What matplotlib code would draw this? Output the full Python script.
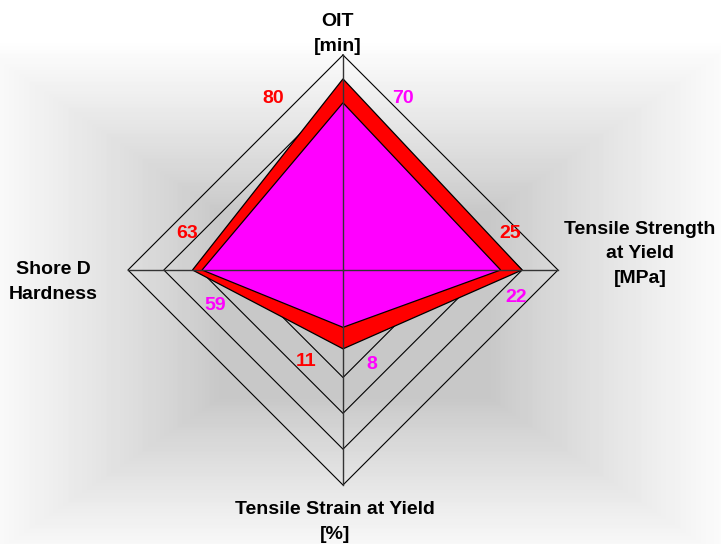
import numpy as np
import matplotlib
matplotlib.use('Agg')
import matplotlib.pyplot as plt

# Axes of the radar, clockwise from the top
categories = ['OIT\n[min]', 'Tensile Strength\nat Yield\n[MPa]',
              'Tensile Strain at Yield\n[%]', 'Shore D\nHardness']
axis_max = [90, 30, 30, 90]
n_rings = 6

# Two samples
red_values = [80, 25, 11, 63]
magenta_values = [70, 22, 8, 59]

# label offsets in pixels (per axis) for the value labels
red_offsets = [(-70, -20), (-12, 36), (-37, -13), (-5, 36)]
magenta_offsets = [(60, 4), (15, -27), (29, -37), (13, -36)]
cat_offsets = [(-5, 21), (82, 16), (-8, -37), (-75, -12)]

angles = np.deg2rad([90, 0, 270, 180])


def to_xy(values):
    r = np.array(values, dtype=float) / np.array(axis_max, dtype=float)
    return r * np.cos(angles), r * np.sin(angles)


fig = plt.figure(figsize=(7.21, 5.44), dpi=100)
ax = fig.add_axes([0, 0, 1, 1])
R = 215.0
cx, cy = 343.0, 270.0
x0, x1 = -cx / R, (721 - cx) / R
y0, y1 = -(544 - cy) / R, cy / R
ax.set_xlim(x0, x1)
ax.set_ylim(y0, y1)
ax.axis('off')

# Background: rectangular gradient, gray in the middle, whitish at the edges
px, py = np.meshgrid(np.arange(721), np.arange(544))
u = np.abs(px - 355) / 385.0
v = np.abs(py - 305) / 265.0
t = np.clip((np.maximum(u, v) - 0.35) / 0.65, 0, 1)
gray = (200 + 55 * t ** 0.9) / 255.0
ax.imshow(gray, cmap='gray', vmin=0, vmax=1, extent=[x0, x1, y0, y1],
          aspect='auto', zorder=0, interpolation='bilinear')

# Ring grid
for k in range(1, n_rings + 1):
    f = k / n_rings
    xs = np.append(f * np.cos(angles), f * np.cos(angles[0]))
    ys = np.append(f * np.sin(angles), f * np.sin(angles[0]))
    ax.plot(xs, ys, color='black', linewidth=0.8, zorder=1)

# Data polygons
rx, ry = to_xy(red_values)
mx, my = to_xy(magenta_values)
ax.fill(rx, ry, facecolor='#ff0000', edgecolor='black', linewidth=0.9, zorder=2)
ax.fill(mx, my, facecolor='#ff00ff', edgecolor='black', linewidth=0.9, zorder=3)

# Spokes on top
for a in angles:
    ax.plot([0, np.cos(a)], [0, np.sin(a)], color='#333333', linewidth=1.0, zorder=4)

# Value labels
for i in range(len(categories)):
    ax.annotate(str(red_values[i]), (rx[i], ry[i]), xytext=red_offsets[i],
                textcoords='offset pixels', ha='center', va='center',
                color='#ff0000', fontsize=14, fontweight='bold',
                family='Liberation Sans', zorder=5)
    ax.annotate(str(magenta_values[i]), (mx[i], my[i]), xytext=magenta_offsets[i],
                textcoords='offset pixels', ha='center', va='center',
                color='#ff00ff', fontsize=14, fontweight='bold',
                family='Liberation Sans', zorder=5)

# Category labels
for i, name in enumerate(categories):
    ax.annotate(name, (np.cos(angles[i]), np.sin(angles[i])), xytext=cat_offsets[i],
                textcoords='offset pixels', ha='center', va='center',
                multialignment='center', linespacing=1.55, color='black',
                fontsize=14, fontweight='bold', family='Liberation Sans', zorder=5)

plt.savefig('out.png', dpi=100)
